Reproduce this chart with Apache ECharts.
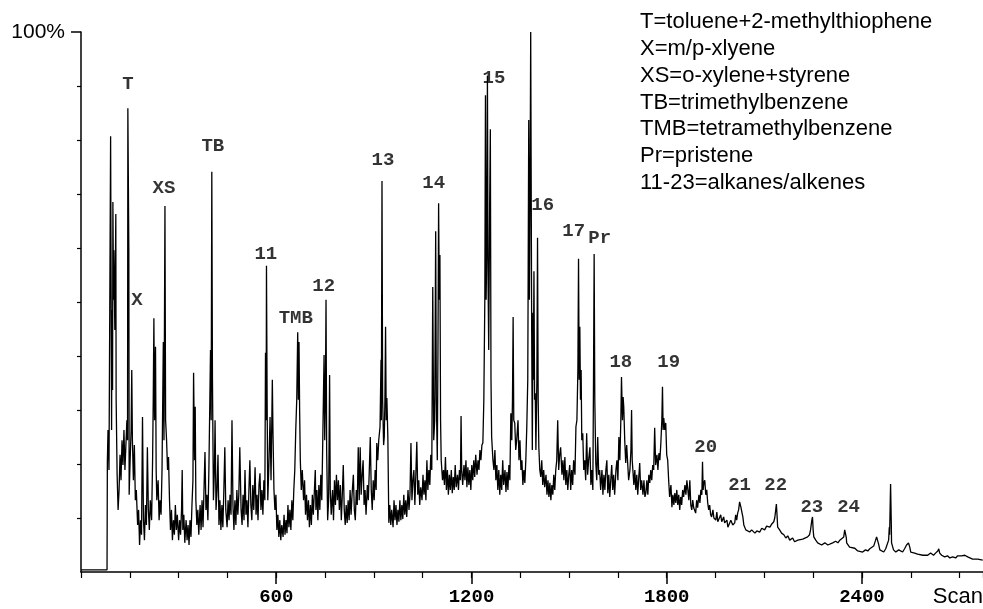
<!DOCTYPE html>
<html><head><meta charset="utf-8">
<script src="https://cdn.jsdelivr.net/npm/echarts@6/dist/echarts.min.js"></script>
<style>html,body{margin:0;padding:0;background:#fff}#c{width:983px;height:609px}</style>
</head><body><div id="c"></div>
<script>
// [scan, relative abundance %]
const traceEarly = [[0,0.4],[80,0.4],[81,20.4],[83,26.3],[86,18.9],[91,80.7],[94,26.3],[95,48.5],[97,33.7],[98,68.5],[100,50.4],[101,59.6],[104,44.8],[107,66.3],[108,31.9],[111,18.0],[114,11.5],[117,15.2],[120,21.7],[123,17.0],[126,24.4],[129,19.8],[132,26.3],[135,18.9],[138,23.5],[141,28.1],[143,24.4],[144,85.9],[147,59.6],[148,14.3],[151,20.7],[154,26.3],[156,37.4],[158,24.4],[161,17.0],[164,23.5],[167,13.3],[170,15.2],[174,8.7],[177,11.5],[180,5.0],[183,9.6],[186,6.9],[189,28.7],[192,9.6],[195,5.9],[198,12.4],[201,8.7],[204,23.1],[207,11.5],[210,7.8],[213,13.3],[217,9.6],[220,20.7],[222,31.9],[224,47.0],[226,28.1],[229,41.7],[231,18.9],[233,13.3],[237,17.0],[240,9.6],[243,13.3],[246,10.6],[249,18.9],[253,42.6],[255,24.4],[258,67.8],[260,28.1],[263,24.4],[266,18.9],[269,21.3],[272,13.3],[275,7.8],[278,11.5],[281,5.9],[284,9.6],[287,6.9],[290,12.4],[293,7.8],[296,10.6],[300,5.9],[303,9.6],[306,6.9],[309,11.5],[311,18.9],[313,7.8],[316,10.6],[319,5.4],[323,9.6],[326,5.9],[329,8.7],[332,5.0],[335,9.6],[338,6.5],[341,12.4],[344,17.0],[346,36.9],[349,20.7],[351,30.6],[353,13.3],[356,8.7],[359,11.5],[362,6.9],[366,12.4],[369,7.8],[372,13.3],[375,8.3],[378,15.2],[381,22.2],[384,11.5],[387,14.3],[390,9.6],[393,18.9],[396,31.9],[398,41.1],[400,28.1],[402,74.1],[404,35.6],[407,13.3],[410,18.9],[412,28.1],[415,11.5],[418,15.2],[421,21.7],[424,8.7],[427,13.3],[430,7.8],[433,12.4],[436,8.3],[439,15.2],[442,23.1],[445,11.5],[449,8.3],[452,13.3],[455,9.6],[458,14.3],[461,10.6],[464,28.1],[467,12.4],[470,7.8],[473,13.3],[476,8.7],[479,15.2],[482,10.6],[485,14.3],[488,23.1],[492,11.5],[495,8.7],[498,14.3],[501,9.6],[504,18.9],[507,10.6],[510,13.3],[513,8.3],[516,15.2],[519,20.7],[522,12.4],[525,9.6],[528,16.1],[531,11.5],[535,19.4],[538,10.6],[541,14.3],[544,9.6],[547,16.1],[550,18.3],[553,11.5],[556,15.2],[559,10.6],[562,17.0],[565,13.3],[567,40.6],[569,28.1],[570,56.7],[572,31.9],[574,13.3],[577,18.9],[581,28.7],[584,17.0],[588,35.6],[590,25.7],[593,15.2],[596,11.5],[599,14.3],[602,7.8],[605,10.6],[608,6.5],[611,9.6],[614,5.9],[617,8.7],[621,6.5],[624,10.6],[627,6.9],[630,9.6],[633,7.2],[636,12.4],[639,8.3],[642,11.5],[645,7.8],[648,13.3],[651,9.6],[654,15.2],[657,18.9],[660,26.3],[663,31.9],[666,44.4],[668,31.9],[670,42.6],[672,29.4],[674,20.7],[677,15.2],[680,18.9],[684,13.3],[687,17.0],[690,10.6],[693,14.3],[696,9.6],[699,13.3],[702,8.3],[705,12.4],[708,8.7],[711,14.3],[714,10.6],[718,16.1],[720,18.9],[722,11.5],[725,15.2],[728,9.6],[731,16.1],[734,11.5],[737,18.0],[740,13.3],[743,24.4],[747,40.2],[749,24.4],[751,31.9],[753,50.4],[755,22.6],[758,9.6],[761,13.3],[764,36.5],[766,15.2],[769,10.6],[773,15.2],[776,9.6],[779,17.0],[782,12.4],[785,18.0],[788,13.3],[791,17.0],[794,11.5],[797,16.1],[800,9.6]];
const traceMid = [[803,14.3],[806,19.8],[809,11.5],[812,8.7],[815,12.4],[818,9.1],[821,13.3],[824,9.6],[827,15.2],[830,10.6],[833,14.3],[837,18.0],[840,11.5],[843,9.6],[846,15.2],[849,12.4],[852,23.1],[855,13.3],[858,23.1],[861,14.3],[864,18.0],[867,20.7],[870,12.4],[873,15.2],[876,10.6],[880,16.1],[883,13.3],[886,18.9],[889,25.0],[892,15.2],[895,11.5],[898,17.0],[901,13.3],[904,18.9],[907,15.2],[909,23.9],[912,20.7],[915,24.4],[919,26.9],[922,39.3],[923,28.1],[925,72.4],[927,31.9],[930,23.5],[932,25.0],[934,31.9],[936,45.4],[938,28.1],[940,32.2],[943,25.0],[946,9.1],[949,12.4],[952,8.7],[955,11.5],[959,8.3],[962,13.3],[965,9.6],[968,12.4],[971,8.7],[974,11.5],[977,9.3],[980,13.3],[983,9.6],[986,12.4],[989,9.8],[992,14.3],[995,10.6],[998,13.3],[1001,10.2],[1005,15.2],[1008,11.5],[1011,14.3],[1014,23.9],[1017,13.3],[1020,17.0],[1023,18.9],[1026,12.4],[1029,18.0],[1032,24.1],[1035,14.3],[1038,17.0],[1041,12.4],[1044,15.7],[1048,13.3],[1051,18.0],[1054,14.3],[1057,17.0],[1060,13.3],[1063,20.7],[1066,15.2],[1069,18.9],[1072,16.1],[1075,21.7],[1078,18.9],[1081,52.8],[1084,24.4],[1087,28.1],[1090,63.1],[1092,31.9],[1095,20.7],[1097,41.1],[1099,68.3],[1101,50.4],[1103,58.7],[1105,28.1],[1107,20.7],[1111,17.0],[1114,18.9],[1117,16.1],[1120,21.3],[1123,15.2],[1126,18.9],[1129,14.3],[1132,18.0],[1135,15.2],[1138,18.9],[1141,14.6],[1144,17.6],[1147,15.2],[1150,19.8],[1153,15.7],[1157,18.0],[1160,15.2],[1163,18.9],[1166,17.0],[1168,28.9],[1170,18.9],[1173,16.1],[1177,19.8],[1180,17.0],[1183,20.7],[1186,15.7],[1189,19.4],[1192,16.1],[1195,18.9],[1198,15.2],[1201,19.8],[1204,17.0],[1207,20.7],[1210,17.6],[1213,21.7],[1217,18.0],[1220,20.7],[1223,18.9],[1226,22.6],[1229,20.7],[1232,23.5],[1235,23.9],[1238,31.9],[1241,50.4],[1243,88.3],[1245,50.4],[1247,59.6],[1249,91.9],[1251,54.1],[1253,41.1],[1256,68.9],[1258,82.0],[1260,35.6],[1262,25.0],[1266,20.7],[1269,18.9],[1272,22.6],[1275,17.0],[1278,19.8],[1281,15.2],[1284,18.9],[1287,14.3],[1290,18.0],[1293,15.2],[1296,20.7],[1299,16.1],[1303,18.9],[1306,14.8],[1309,18.5],[1312,15.2],[1315,19.8],[1318,17.0],[1321,29.4],[1324,24.4],[1326,31.9],[1328,47.2],[1330,28.1],[1333,27.6],[1336,22.6],[1339,24.4],[1343,28.1],[1346,20.7],[1349,24.4],[1352,18.9],[1355,20.7],[1358,16.1],[1361,18.9],[1364,16.5],[1367,20.7],[1370,26.9],[1373,35.6],[1376,83.7],[1378,50.4],[1380,68.9],[1382,100],[1385,44.8],[1387,22.6],[1389,48.0],[1390,35.6],[1392,55.7],[1394,31.9],[1396,33.1],[1398,22.6],[1401,35.6],[1403,61.9],[1405,31.9],[1407,23.1],[1410,18.9],[1413,17.6],[1416,20.7],[1419,16.1],[1422,18.9],[1425,15.7],[1429,18.0],[1432,14.3],[1435,17.0],[1438,13.9],[1441,16.5],[1444,13.3],[1447,16.1],[1450,14.3],[1453,18.0],[1456,15.2],[1459,18.9],[1462,20.7],[1465,28.1],[1468,18.9],[1471,21.7],[1474,23.1],[1478,18.0],[1481,20.7],[1484,17.0],[1487,21.3],[1490,16.1],[1493,18.9],[1496,15.2],[1499,18.0],[1502,19.8],[1505,15.2],[1508,18.9],[1511,16.1],[1514,20.7],[1518,18.0],[1521,26.9],[1524,28.1],[1527,37.4],[1529,58.0],[1531,35.6],[1533,45.4],[1535,31.9],[1537,37.4],[1539,24.4],[1542,25.7],[1545,18.9],[1548,20.7],[1551,17.0],[1554,25.7],[1557,18.0],[1560,20.7],[1564,23.1],[1567,16.1],[1570,18.9],[1573,15.2],[1575,35.6],[1577,58.9],[1579,31.9],[1582,20.2],[1585,17.0],[1588,25.0],[1591,18.0],[1594,18.9],[1597,15.2]];
const traceLate = [[1601,18.9],[1604,14.3],[1607,18.0],[1610,15.2],[1613,18.9],[1616,20.7],[1619,14.6],[1622,18.0],[1625,13.9],[1628,17.0],[1631,19.8],[1634,15.2],[1637,18.0],[1640,14.3],[1644,18.9],[1647,20.7],[1650,17.0],[1653,25.0],[1656,20.7],[1659,28.1],[1661,36.1],[1664,28.1],[1666,32.4],[1668,30.6],[1671,24.4],[1674,20.2],[1677,23.5],[1680,20.2],[1683,17.0],[1687,18.9],[1690,22.6],[1692,30.0],[1694,20.7],[1696,18.9],[1699,16.1],[1702,18.9],[1705,15.2],[1708,18.0],[1711,14.3],[1714,17.4],[1717,20.2],[1720,15.2],[1723,17.0],[1727,14.3],[1730,17.0],[1733,13.9],[1736,14.6],[1739,17.0],[1742,14.3],[1745,18.0],[1748,16.5],[1751,18.9],[1754,17.0],[1757,19.8],[1760,18.9],[1763,26.7],[1766,19.8],[1770,21.7],[1773,18.9],[1776,22.0],[1779,20.7],[1782,23.9],[1785,28.1],[1787,34.3],[1789,26.3],[1791,28.5],[1794,26.3],[1797,27.6],[1800,21.7],[1803,20.7],[1806,17.0],[1809,13.9],[1813,16.1],[1816,12.0],[1819,14.3],[1822,12.4],[1825,14.6],[1828,12.8],[1831,15.2],[1834,12.4],[1837,14.3],[1840,11.5],[1843,13.9],[1846,12.4],[1849,15.2],[1852,13.9],[1856,16.1],[1859,14.3],[1862,17.0],[1865,15.2],[1868,13.3],[1871,17.0],[1874,12.4],[1877,11.5],[1880,13.3],[1883,11.9],[1886,12.0],[1889,10.9],[1892,13.3],[1895,11.9],[1899,14.3],[1902,12.8],[1905,15.2],[1908,14.3],[1910,20.4],[1912,15.2],[1914,16.5],[1917,17.0],[1920,14.3],[1923,15.2],[1926,12.8],[1929,11.5],[1932,12.4],[1935,10.6],[1938,10.2],[1942,11.5],[1945,10.0],[1951,9.6],[1954,11.1],[1957,9.3],[1963,9.1],[1966,10.6],[1969,9.3],[1975,10.2],[1978,9.1],[1985,9.6],[1988,8.3],[1994,8.3],[1997,9.6],[2003,8.7],[2009,9.1],[2012,10.6],[2015,9.6],[2018,10.9],[2021,11.5],[2024,13.0],[2028,12.0],[2031,11.1],[2034,10.2],[2037,8.7],[2043,7.8],[2049,8.1],[2055,7.4],[2061,7.8],[2071,7.2],[2077,7.6],[2086,7.4],[2092,8.1],[2101,7.8],[2107,8.5],[2117,8.3],[2123,8.9],[2129,9.3],[2132,10.0],[2135,11.5],[2137,12.6],[2139,10.6],[2141,8.3],[2147,7.8],[2153,7.2],[2160,6.9],[2166,6.3],[2172,6.7],[2178,5.9],[2187,6.3],[2193,5.6],[2203,5.9],[2209,5.6],[2218,6.1],[2224,5.9],[2233,6.5],[2239,6.9],[2242,7.8],[2246,9.6],[2248,10.2],[2250,7.8],[2252,6.5],[2258,5.9],[2264,5.4],[2270,5.7],[2276,5.0],[2286,5.4],[2295,5.0],[2301,5.2],[2310,5.4],[2319,5.7],[2326,5.4],[2332,5.9],[2338,5.7],[2344,6.5],[2347,7.8],[2349,8.1],[2352,6.3],[2353,5.4],[2362,4.6],[2368,4.3],[2378,4.4],[2387,3.9],[2393,4.1],[2402,3.7],[2411,4.1],[2418,3.9],[2424,4.3],[2430,4.4],[2436,4.8],[2442,5.9],[2445,6.5],[2448,6.3],[2451,5.2],[2455,4.1],[2461,3.9],[2467,3.7],[2473,4.3],[2479,4.6],[2482,5.9],[2484,8.3],[2485,6.9],[2487,13.3],[2488,16.3],[2490,9.6],[2491,5.4],[2497,4.1],[2504,3.7],[2513,4.1],[2519,3.9],[2525,3.7],[2531,4.3],[2537,5.0],[2543,5.4],[2547,4.6],[2550,3.7],[2556,3.5],[2562,3.5],[2571,3.3],[2577,3.5],[2587,3.1],[2593,3.3],[2602,3.1],[2611,3.5],[2620,3.1],[2626,3.5],[2633,3.9],[2636,4.3],[2639,3.5],[2645,3.1],[2654,2.8],[2663,3.0],[2670,2.6],[2679,2.8],[2688,2.6],[2694,3.0],[2700,3.1],[2706,3.0],[2716,3.1],[2725,2.8],[2731,2.8],[2740,2.4],[2746,2.2],[2756,2.4],[2762,2.4],[2771,2.2]];

const peakNames = ['T','X','XS','TB','11','TMB','12','13','14','15','16','17','Pr','18','19','20','21','22','23','24'];
const peakLabelScan = [144,172,255,405,568,660,746,928,1084,1269,1419,1514,1594,1659,1806,1920,2024,2135,2246,2359];
const peakLabelLevel = [90.4,50.4,71.1,78.9,58.9,47.0,53.0,76.3,72.0,91.5,68.0,63.1,61.9,38.9,38.9,23.1,16.1,16.1,12.0,12.0];

const xMajorTicks = [600,1200,1800,2400];
const yMinorTicks = [10,20,30,40,50,60,70,80,90];
const yTopTick = [100];
const notes = ['T=toluene+2-methylthiophene','X=m/p-xlyene','XS=o-xylene+styrene','TB=trimethylbenzene','TMB=tetramethylbenzene','Pr=pristene','11-23=alkanes/alkenes'];

const trace = traceEarly.concat(traceMid, traceLate);
const peakLabels = peakNames.map((n, i) => ({ name: n, value: [peakLabelScan[i], peakLabelLevel[i]] }));

const mono = "'Liberation Mono','DejaVu Sans Mono',monospace";
const sans = "'Liberation Sans',Arial,sans-serif";
const black = '#000';

const chart = echarts.init(document.getElementById('c'), null, { renderer: 'canvas' });
chart.setOption({
  animation: false,
  backgroundColor: '#fff',
  grid: { left: 81, right: 0, top: 32, bottom: 37, containLabel: false },
  xAxis: [
    { type: 'value', min: 0, max: 2772, interval: 150, position: 'bottom',
      axisLine: { show: true, lineStyle: { color: black, width: 1.5 } },
      axisTick: { show: true, length: 6, lineStyle: { color: black, width: 1.2 } },
      axisLabel: { show: false }, splitLine: { show: false } },
    { type: 'value', min: 0, max: 2772, interval: 600, position: 'bottom',
      axisLine: { show: false },
      axisTick: { show: true, customValues: xMajorTicks, length: 12, lineStyle: { color: black, width: 1.5 } },
      axisLabel: { show: true, customValues: xMajorTicks, formatter: v => String(v), margin: 16, color: black, fontFamily: mono, fontWeight: 'bold', fontSize: 19 },
      splitLine: { show: false } }
  ],
  yAxis: [
    { type: 'value', min: 0, max: 100, interval: 10, position: 'left',
      axisLine: { show: true, lineStyle: { color: black, width: 1.5 } },
      axisTick: { show: true, customValues: yMinorTicks, length: 4, lineStyle: { color: black, width: 1.2 } },
      axisLabel: { show: false }, splitLine: { show: false } },
    { type: 'value', min: 0, max: 100, interval: 100, position: 'left',
      axisLine: { show: false },
      axisTick: { show: true, customValues: yTopTick, length: 10, lineStyle: { color: black, width: 1.5 } },
      axisLabel: { show: true, customValues: yTopTick, formatter: v => v + '%', margin: 16, color: black, fontFamily: sans, fontSize: 21 },
      splitLine: { show: false } }
  ],
  series: [
    { type: 'line', xAxisIndex: 0, yAxisIndex: 0, data: trace, symbol: 'none', showSymbol: false,
      lineStyle: { color: black, width: 1.3 }, silent: true, z: 2 },
    { type: 'scatter', xAxisIndex: 0, yAxisIndex: 0, data: peakLabels, symbolSize: 1,
      itemStyle: { color: 'rgba(0,0,0,0)' }, silent: true, z: 3,
      label: { show: true, position: 'inside', formatter: '{b}', color: black, fontFamily: mono, fontWeight: 'bold', fontSize: 19 } }
  ],
  graphic: [
    { type: 'text', left: 640, top: 9, silent: true,
      style: { text: notes.join('\n'), fontFamily: sans, fontSize: 22, lineHeight: 26.7, fill: black } },
    { type: 'text', right: 0, top: 586, silent: true,
      style: { text: 'Scan', fontFamily: sans, fontSize: 22, fill: black } }
  ]
});
</script>
</body></html>
